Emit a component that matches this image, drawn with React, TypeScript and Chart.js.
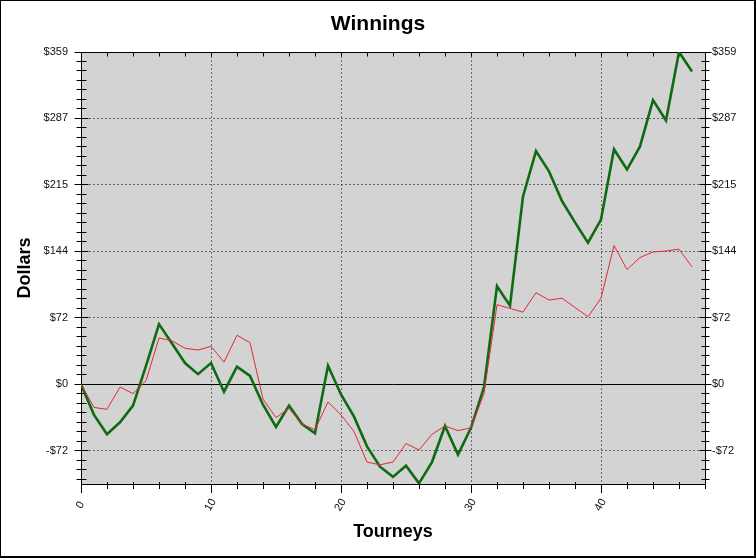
import React, { useEffect, useRef } from 'react';
import { Chart, registerables } from 'chart.js';

Chart.register(...registerables);

// ---- data ----
const tourneys = [
  0, 1, 2, 3, 4, 5, 6, 7, 8, 9, 10, 11, 12, 13, 14, 15, 16, 17, 18, 19, 20, 21, 22, 23,
  24, 25, 26, 27, 28, 29, 30, 31, 32, 33, 34, 35, 36, 37, 38, 39, 40, 41, 42, 43, 44, 45, 46, 47,
];
const greenSeries = [
  0, -33, -54, -41, -23, 20, 65, 44, 23, 11, 23, -8, 19, 9, -22, -46, -23, -43, -53, 20, -11, -35, -67, -89,
  -100, -88, -107, -84, -45, -76, -47, -3, 106, 85, 203, 252, 230, 198, 175, 153, 178, 254, 232, 257, 307, 285, 359, 338,
];
const redSeries = [
  0, -25, -27, -3, -10, 4, 50, 47, 39, 37, 41, 24, 53, 45, -16, -36, -26, -43, -49, -19, -33, -51, -84, -87,
  -84, -64, -71, -54, -45, -50, -47, -10, 86, 82, 78, 99, 91, 93, 83, 73, 93, 150, 124, 137, 143, 144, 146, 127,
];
const yTickValues = [-71.8, 0, 71.8, 143.6, 215.4, 287.2, 359];
const yTickLabels = ['-$72', '$0', '$72', '$144', '$215', '$287', '$359'];
const xTickValues = [0, 10, 20, 30, 40];
const xTickLabels = ['0', '10', '20', '30', '40'];
const Y_MIN = -107.7;
const Y_MAX = 359;
const X_MIN = 0;
const X_MAX = 48;
const X_MINOR_STEP = 2;
const Y_MINOR_DIVS = 7;

const FONT = 'Liberation Sans, Arial, sans-serif';

const framePlugin = {
  id: 'framePlugin',
  beforeDraw(chart: any) {
    const { ctx, chartArea: a, width, height } = chart;
    ctx.save();
    ctx.fillStyle = '#ffffff';
    ctx.fillRect(0, 0, width, height);
    ctx.fillStyle = '#d3d3d3';
    ctx.fillRect(a.left, a.top, a.right - a.left, a.bottom - a.top);
    ctx.restore();
  },
  beforeDatasetsDraw(chart: any) {
    const { ctx, chartArea: a, scales } = chart;
    const xs = scales.x;
    const ys = scales.y;
    const L = Math.floor(a.left) + 0.5;
    const R = Math.floor(a.right) + 0.5;
    const T = Math.floor(a.top) + 0.5;
    const B = Math.floor(a.bottom) + 0.5;
    const line = (x1: number, y1: number, x2: number, y2: number) => {
      ctx.beginPath();
      ctx.moveTo(x1, y1);
      ctx.lineTo(x2, y2);
      ctx.stroke();
    };
    ctx.save();
    ctx.strokeStyle = '#000';
    ctx.lineWidth = 1;
    // dotted grid
    ctx.setLineDash([1, 3]);
    for (const v of xTickValues) {
      if (v <= X_MIN || v >= X_MAX) continue;
      const px = Math.floor(xs.getPixelForValue(v)) + 0.5;
      line(px, T, px, B);
    }
    for (const v of yTickValues) {
      if (v === 0 || v >= Y_MAX || v <= Y_MIN) continue;
      const py = Math.floor(ys.getPixelForValue(v)) + 0.5;
      line(L, py, R, py);
    }
    ctx.setLineDash([]);
    // zero line
    const zy = Math.floor(ys.getPixelForValue(0)) + 0.5;
    line(L, zy, R, zy);
    // frame of plot
    line(L, T, R, T);
    line(L, B, R, B);
    line(L, T, L, B);
    line(R, T, R, B);
    // x ticks (bottom and top)
    for (let v = X_MIN; v <= X_MAX; v += X_MINOR_STEP) {
      const px = Math.floor(xs.getPixelForValue(v)) + 0.5;
      const major = v % 10 === 0;
      if (major) line(px, B - 0.5, px, B + 8.5);
      else line(px, B - 2.5, px, B + 4.5);
      line(px, T, px, T + 4);
    }
    // y ticks (left and right)
    const step = (yTickValues[2] - yTickValues[1]) / Y_MINOR_DIVS;
    const kMin = Math.ceil(Y_MIN / step - 1e-6);
    const kMax = Math.floor(Y_MAX / step + 1e-6);
    for (let k = kMin; k <= kMax; k++) {
      const v = k * step;
      const py = Math.floor(ys.getPixelForValue(v)) + 0.5;
      const major = k % Y_MINOR_DIVS === 0;
      if (major) {
        line(L - 7, py, L + 7, py);
        line(R - 6, py, R + 6, py);
      } else {
        line(L - 5, py, L + 5, py);
        line(R - 4, py, R + 4, py);
      }
    }
    ctx.restore();
  },
  afterDraw(chart: any) {
    const { ctx, width, height, scales } = chart;
    const xs = scales.x;
    ctx.save();
    // x tick labels (rotated)
    ctx.fillStyle = '#111';
    ctx.font = `11px ${FONT}`;
    ctx.textAlign = 'center';
    ctx.textBaseline = 'middle';
    xTickValues.forEach((v, i) => {
      const px = xs.getPixelForValue(v);
      ctx.save();
      ctx.translate(px - 0.5, 505);
      ctx.rotate(-Math.PI / 3);
      ctx.fillText(xTickLabels[i], 0, 0);
      ctx.restore();
    });
    // outer frame
    ctx.fillStyle = '#000';
    ctx.fillRect(0, 0, width, 1);
    ctx.fillRect(0, 0, 1, height);
    ctx.fillRect(width - 2, 0, 2, height);
    ctx.fillRect(0, height - 2, width, 2);
    ctx.restore();
  },
};

const yTicksFromData = (scale: any) => {
  scale.ticks = yTickValues.map((v) => ({ value: v }));
};

export default function App() {
  const ref = useRef<HTMLCanvasElement>(null);
  useEffect(() => {
    document.body.style.margin = '0';
    const canvas = ref.current;
    if (!canvas) return;
    const chart = new Chart(canvas, {
      type: 'line',
      data: {
        datasets: [
          {
            label: 'Red',
            data: tourneys.map((t, i) => ({ x: t, y: redSeries[i] })),
            borderColor: '#e3283c',
            borderWidth: 1,
            pointRadius: 0,
            tension: 0,
            fill: false,
          },
          {
            label: 'Green',
            data: tourneys.map((t, i) => ({ x: t, y: greenSeries[i] })),
            borderColor: '#0e6b12',
            borderWidth: 2.6,
            pointRadius: 0,
            tension: 0,
            fill: false,
          },
        ],
      },
      options: {
        animation: false,
        responsive: false,
        devicePixelRatio: 1,
        layout: { padding: 0 },
        plugins: {
          legend: { display: false },
          tooltip: { enabled: false },
          title: {
            display: true,
            text: 'Winnings',
            color: '#000',
            font: { family: FONT, size: 21, weight: 'bold' },
            padding: { top: 12, bottom: 14.8 },
          },
        },
        scales: {
          x: {
            type: 'linear',
            position: 'bottom',
            min: X_MIN,
            max: X_MAX,
            grid: { display: false, drawTicks: false },
            border: { display: false },
            ticks: { display: false },
            title: {
              display: true,
              text: 'Tourneys',
              color: '#000',
              font: { family: FONT, size: 18, weight: 'bold' },
              padding: { top: 0, bottom: 15 },
            },
            afterFit: (s: any) => {
              s.height = 74;
            },
          },
          y: {
            type: 'linear',
            position: 'left',
            min: Y_MIN,
            max: Y_MAX,
            afterBuildTicks: yTicksFromData,
            grid: { display: false, drawTicks: false },
            border: { display: false },
            ticks: {
              color: '#111',
              font: { family: FONT, size: 11 },
              padding: 13,
              autoSkip: false,
              callback: (_v: any, i: number) => yTickLabels[i],
            },
            title: {
              display: true,
              text: 'Dollars',
              color: '#000',
              font: { family: FONT, size: 18, weight: 'bold' },
              padding: { top: 14, bottom: 0 },
            },
            afterFit: (s: any) => {
              s.width = 81;
            },
          },
          y2: {
            type: 'linear',
            position: 'right',
            min: Y_MIN,
            max: Y_MAX,
            afterBuildTicks: yTicksFromData,
            grid: { display: false, drawTicks: false },
            border: { display: false },
            ticks: {
              color: '#111',
              font: { family: FONT, size: 11 },
              padding: 7,
              autoSkip: false,
              callback: (_v: any, i: number) => yTickLabels[i],
            },
            afterFit: (s: any) => {
              s.width = 51;
            },
          },
        },
      } as any,
      plugins: [framePlugin],
    });
    return () => chart.destroy();
  }, []);
  return (
    <canvas
      ref={ref}
      width={756}
      height={558}
      style={{ display: 'block', width: 756, height: 558 }}
    />
  );
}
